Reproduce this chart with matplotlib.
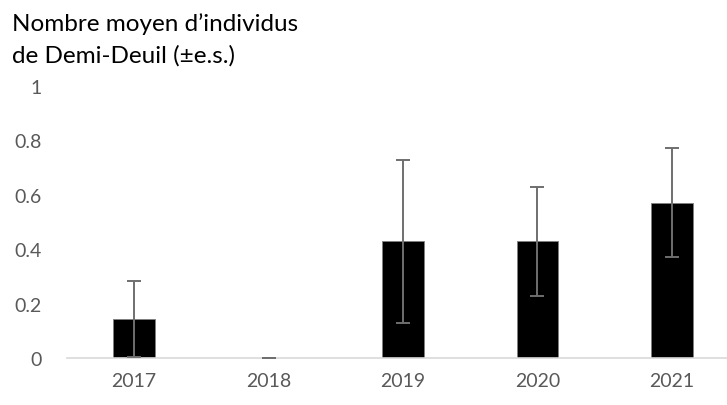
import matplotlib
import matplotlib.pyplot as plt
import numpy as np

matplotlib.rc('font', family=['Lato', 'DejaVu Sans'])

years = ['2017', '2018', '2019', '2020', '2021']
means = [0.143, 0.0, 0.429, 0.429, 0.571]
errors = [0.14, 0.0, 0.30, 0.20, 0.20]
yticks = [0, 0.2, 0.4, 0.6, 0.8, 1]
ytick_labels = ['0', '0.2', '0.4', '0.6', '0.8', '1']

fig = plt.figure(figsize=(7.27, 4.06), dpi=100)
ax = fig.add_axes([0.092, 0.1158, 0.908, 0.67])

x = np.arange(len(years))
ax.bar(x, means, width=0.31, color='black', edgecolor='#7f7f7f', linewidth=0.6, zorder=2)
ax.errorbar(x, means, yerr=errors, fmt='none', ecolor='#6f6f6f', elinewidth=1.4,
            capsize=4.7, capthick=1.4, zorder=3)

ax.set_xlim(-0.5, 4.41)
ax.set_ylim(0, 1)
ax.set_xticks(x)
ax.set_xticklabels(years)
ax.set_yticks(yticks)
ax.set_yticklabels(ytick_labels)
ax.tick_params(length=0, labelsize=14, colors='#595959', pad=10)
ax.tick_params(axis='y', pad=18)
for s in ['top', 'right', 'left']:
    ax.spines[s].set_visible(False)
ax.spines['bottom'].set_color('#d9d9d9')
ax.spines['bottom'].set_linewidth(1.2)

fig.text(0.017, 0.924, 'Nombre moyen d\u2019individus', fontsize=17.5, color='black', va='baseline')
fig.text(0.017, 0.845, 'de Demi-Deuil (\u00b1e.s.)', fontsize=17.5, color='black', va='baseline')

plt.savefig('out.png', dpi=100)
